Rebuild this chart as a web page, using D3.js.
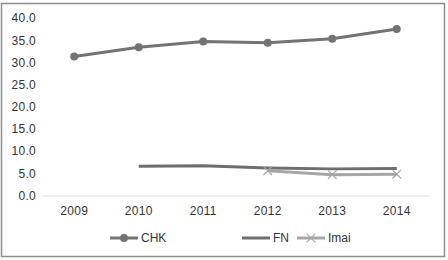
<!DOCTYPE html>
<html>
<head>
<meta charset="utf-8">
<script src="https://cdn.jsdelivr.net/npm/d3@7"></script>
<style>
  body { margin: 0; background: #fff; }
  svg { display: block; font-family: "Liberation Sans", Arial, sans-serif; }
</style>
</head>
<body>
<svg width="448" height="260"></svg>
<script>
const years = ['2009', '2010', '2011', '2012', '2013', '2014']
const chk = [31.3, 33.4, 34.7, 34.4, 35.3, 37.5]
const fn = [null, 6.6, 6.7, 6.2, 6.0, 6.1]
const imai = [null, null, null, 5.6, 4.7, 4.8]
const yTicks = [0, 5, 10, 15, 20, 25, 30, 35, 40]

const svg = d3.select('svg')

// frame
svg.append('rect')
    .attr('x', 1.5).attr('y', 3.5)
    .attr('width', 443).attr('height', 253)
    .attr('fill', '#fff')
    .attr('stroke', '#8e8e8e')
    .attr('stroke-width', 1.5)

const xScale = d3.scaleBand().domain(years).range([42, 429])
const yScale = d3.scaleLinear().domain([0, 40]).range([195.5, 18])
const xc = d => xScale(d) + xScale.bandwidth() / 2

// y axis labels
const yAxis = d3.axisLeft(yScale)
    .tickValues(yTicks)
    .tickFormat(d3.format('.1f'))
    .tickSize(0)
    .tickPadding(6)
const gy = svg.append('g').attr('transform', 'translate(42,0)').call(yAxis)
gy.select('.domain').remove()
gy.selectAll('text').attr('fill', '#333').style('font-size', '12px').style('letter-spacing', '0.3px')

// x axis
const xAxis = d3.axisBottom(xScale).tickSize(0).tickPadding(11)
const gx = svg.append('g').attr('transform', 'translate(0,195.5)').call(xAxis)
gx.select('.domain').attr('stroke', '#d9d9d9')
gx.selectAll('text').attr('fill', '#333').style('font-size', '12px').style('letter-spacing', '0.3px')

const line = d3.line()
    .defined(d => d.v != null)
    .x(d => xc(d.year))
    .y(d => yScale(d.v))

const series = [
    {name: 'CHK', values: chk, color: '#737373', width: 3, marker: 'circle'},
    {name: 'FN', values: fn, color: '#6e6e6e', width: 3, marker: null},
    {name: 'Imai', values: imai, color: '#a6a6a6', width: 3, marker: 'x'}
]

series.forEach(s => {
    const pts = years.map((y, i) => ({year: y, v: s.values[i]}))
    svg.append('path')
        .datum(pts)
        .attr('d', line)
        .attr('fill', 'none')
        .attr('stroke', s.color)
        .attr('stroke-width', s.width)
        .attr('stroke-linejoin', 'round')
    const valid = pts.filter(d => d.v != null)
    if (s.marker === 'circle') {
        svg.append('g').selectAll('circle')
            .data(valid).enter().append('circle')
            .attr('cx', d => xc(d.year))
            .attr('cy', d => yScale(d.v))
            .attr('r', 4)
            .attr('fill', s.color)
    } else if (s.marker === 'x') {
        svg.append('g').selectAll('path')
            .data(valid).enter().append('path')
            .attr('d', d3.symbol(d3.symbolX, 50))
            .attr('transform', d => `translate(${xc(d.year)},${yScale(d.v)})`)
            .attr('fill', 'none')
            .attr('stroke', s.color)
            .attr('stroke-width', 1.2)
    }
})

// legend
const legendX = [110, 242, 297]
const legend = svg.append('g').attr('transform', 'translate(0,238)')
series.forEach((s, i) => {
    const g = legend.append('g').attr('transform', `translate(${legendX[i]},0)`)
    g.append('line')
        .attr('x1', 0).attr('x2', 28)
        .attr('stroke', s.color).attr('stroke-width', 3)
    if (s.marker === 'circle') {
        g.append('circle').attr('cx', 14).attr('r', 4).attr('fill', s.color)
    } else if (s.marker === 'x') {
        g.append('path')
            .attr('d', d3.symbol(d3.symbolX, 50))
            .attr('transform', 'translate(14,0)')
            .attr('fill', 'none').attr('stroke', s.color).attr('stroke-width', 1.2)
    }
    g.append('text')
        .attr('x', 31).attr('dy', '0.35em')
        .attr('fill', '#333')
        .style('font-size', '12px')
        .text(s.name)
})
</script>
</body>
</html>
